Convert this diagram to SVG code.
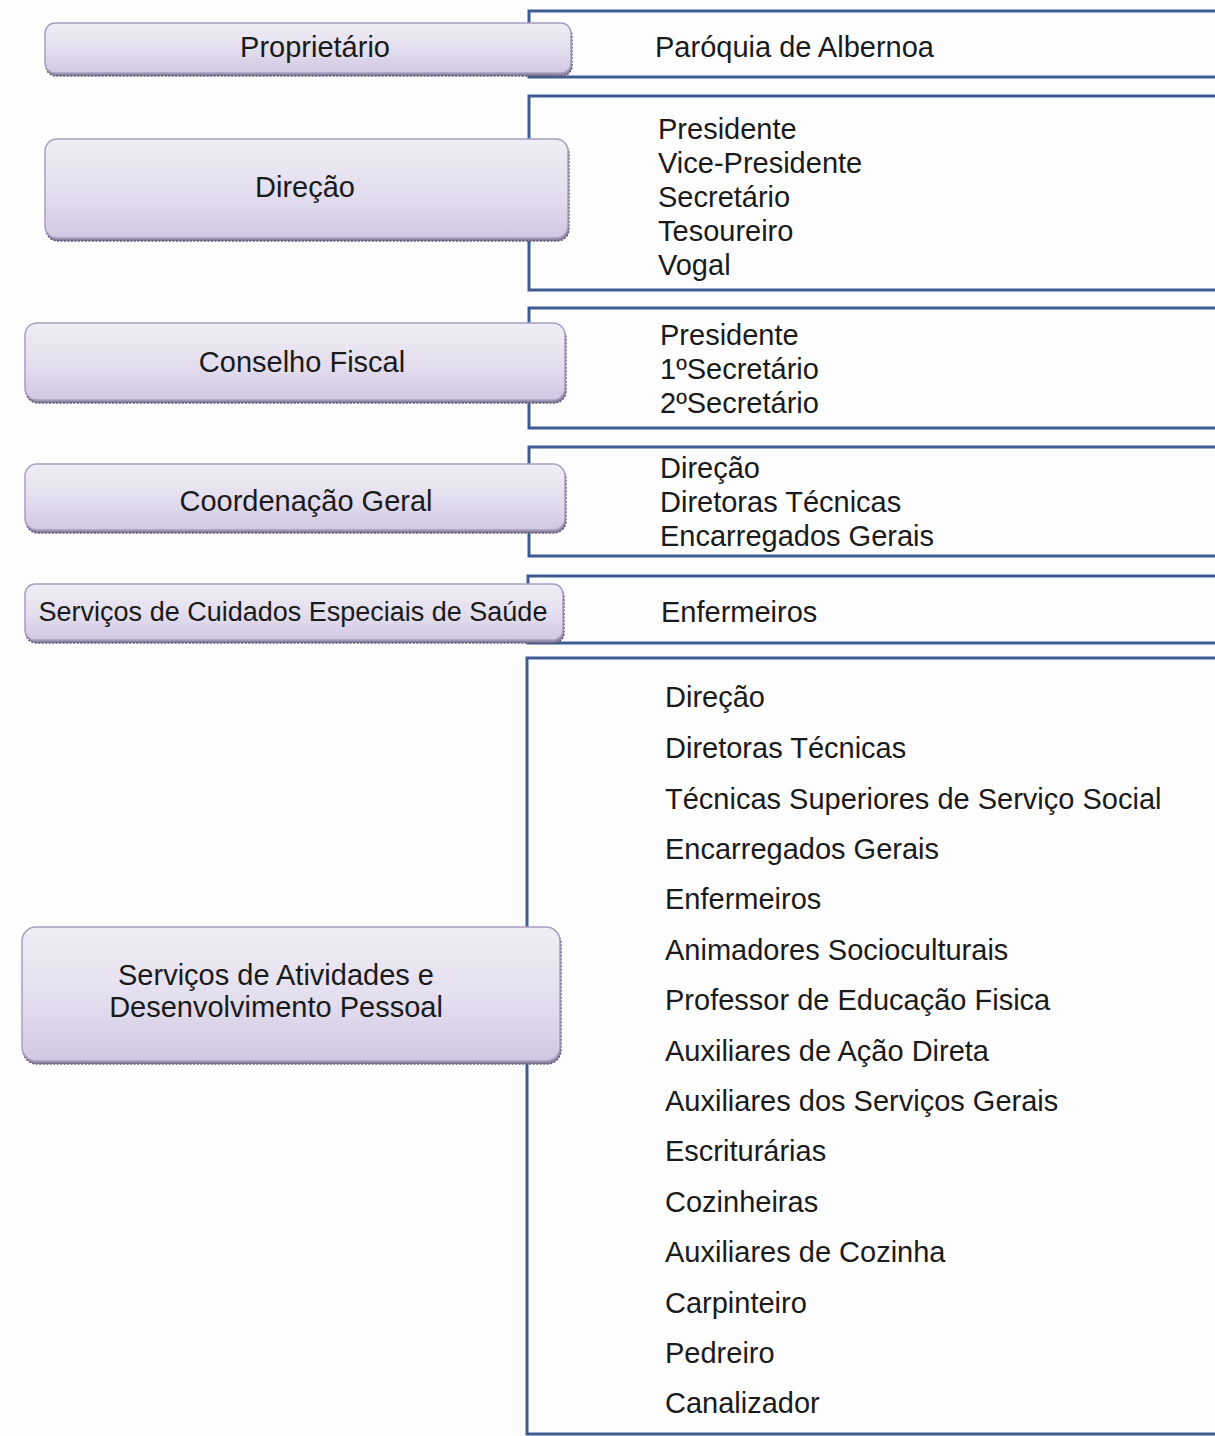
<svg xmlns="http://www.w3.org/2000/svg" width="1215" height="1436" viewBox="0 0 1215 1436">
<style>
.lbl{font-family:"Liberation Sans",Arial,sans-serif;font-size:29px;fill:#1a1a1a}
.item{font-family:"Liberation Sans",Arial,sans-serif;font-size:29px;fill:#1a1a1a}
.node{fill:url(#lav);stroke:#a89fc0;stroke-width:1.5}
.shadow{fill:#8a829e;stroke:#5f5874;stroke-width:1.5;stroke-dasharray:2 1.5}
.br{fill:none;stroke:#3e5c92;stroke-width:3}
</style>
<defs>
<linearGradient id="lav" x1="0" y1="0" x2="0" y2="1">
<stop offset="0" stop-color="#efedf5"/>
<stop offset="0.55" stop-color="#e3deee"/>
<stop offset="1" stop-color="#d0c7e2"/>
</linearGradient>
</defs>
<rect width="1215" height="1436" fill="#fdfdfd"/>
<g id="connectors">
<path class="br" d="M1215 11 H529 V77 H1215"/>
<path class="br" d="M1215 96 H529 V290 H1215"/>
<path class="br" d="M1215 308 H529 V428 H1215"/>
<path class="br" d="M1215 447 H529 V556 H1215"/>
<path class="br" d="M1215 576 H528 V643 H1215"/>
<path class="br" d="M1215 658 H527 V1434 H1215"/>
</g>
<g id="n-proprietario">
<rect class="shadow" x="46" y="26" width="526" height="50" rx="10"/>
<rect class="node" x="45" y="23" width="526" height="50" rx="10"/>
<text class="lbl" x="315" y="57" text-anchor="middle">Proprietário</text>
</g>
<g id="n-direcao">
<rect class="shadow" x="46" y="142" width="523" height="99" rx="12"/>
<rect class="node" x="45" y="139" width="523" height="99" rx="12"/>
<text class="lbl" x="305" y="197" text-anchor="middle">Direção</text>
</g>
<g id="n-conselho">
<rect class="shadow" x="26" y="326" width="540" height="77" rx="12"/>
<rect class="node" x="25" y="323" width="540" height="77" rx="12"/>
<text class="lbl" x="302" y="372" text-anchor="middle">Conselho Fiscal</text>
</g>
<g id="n-coordenacao">
<rect class="shadow" x="26" y="467" width="540" height="66" rx="12"/>
<rect class="node" x="25" y="464" width="540" height="66" rx="12"/>
<text class="lbl" x="306" y="511" text-anchor="middle">Coordenação Geral</text>
</g>
<g id="n-cuidados">
<rect class="shadow" x="26" y="587" width="538" height="56" rx="10"/>
<rect class="node" x="25" y="584" width="538" height="56" rx="10"/>
<text class="lbl" x="293" y="621" text-anchor="middle" style="font-size:27px">Serviços de Cuidados Especiais de Saúde</text>
</g>
<g id="n-atividades">
<rect class="shadow" x="23" y="930" width="538" height="134" rx="14"/>
<rect class="node" x="22" y="927" width="538" height="134" rx="14"/>
<text class="lbl" x="276" y="985" text-anchor="middle">Serviços de Atividades e</text>
<text class="lbl" x="276" y="1017" text-anchor="middle">Desenvolvimento Pessoal</text>
</g>
<g id="l-proprietario">
<text class="item" x="655" y="57">Paróquia de Albernoa</text>
</g>
<g id="l-direcao">
<text class="item" x="658" y="139">Presidente</text>
<text class="item" x="658" y="173">Vice-Presidente</text>
<text class="item" x="658" y="207">Secretário</text>
<text class="item" x="658" y="241">Tesoureiro</text>
<text class="item" x="658" y="275">Vogal</text>
</g>
<g id="l-conselho">
<text class="item" x="660" y="345">Presidente</text>
<text class="item" x="660" y="379">1ºSecretário</text>
<text class="item" x="660" y="413">2ºSecretário</text>
</g>
<g id="l-coordenacao">
<text class="item" x="660" y="478">Direção</text>
<text class="item" x="660" y="512">Diretoras Técnicas</text>
<text class="item" x="660" y="546">Encarregados Gerais</text>
</g>
<g id="l-cuidados">
<text class="item" x="661" y="622">Enfermeiros</text>
</g>
<g id="l-atividades">
<text class="item" x="665" y="707">Direção</text>
<text class="item" x="665" y="758">Diretoras Técnicas</text>
<text class="item" x="665" y="809">Técnicas Superiores de Serviço Social</text>
<text class="item" x="665" y="859">Encarregados Gerais</text>
<text class="item" x="665" y="909">Enfermeiros</text>
<text class="item" x="665" y="960">Animadores Socioculturais</text>
<text class="item" x="665" y="1010">Professor de Educação Fisica</text>
<text class="item" x="665" y="1061">Auxiliares de Ação Direta</text>
<text class="item" x="665" y="1111">Auxiliares dos Serviços Gerais</text>
<text class="item" x="665" y="1161">Escriturárias</text>
<text class="item" x="665" y="1212">Cozinheiras</text>
<text class="item" x="665" y="1262">Auxiliares de Cozinha</text>
<text class="item" x="665" y="1313">Carpinteiro</text>
<text class="item" x="665" y="1363">Pedreiro</text>
<text class="item" x="665" y="1413">Canalizador</text>
</g>
</svg>
